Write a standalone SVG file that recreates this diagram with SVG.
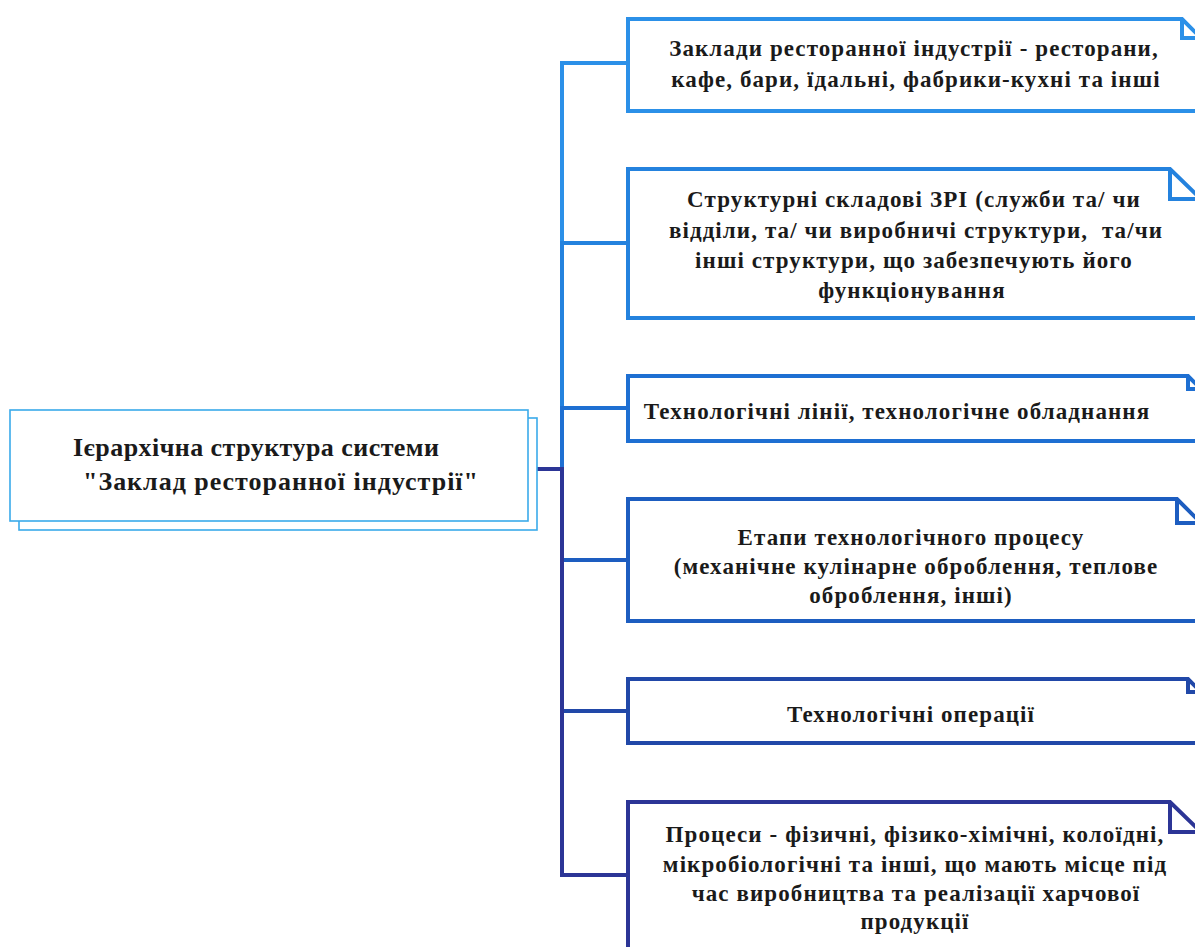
<svg xmlns="http://www.w3.org/2000/svg" width="1195" height="947" viewBox="0 0 1195 947">
  <style>
    .bg { fill: #ffffff; }
    .card { fill: #ffffff; stroke-width: 4; stroke-linejoin: miter; }
    .fold { fill: none; stroke-width: 4; stroke-linejoin: miter; }
    .wire { fill: none; stroke-width: 4; stroke-linejoin: miter; }
    .root { fill: #ffffff; stroke: #3aaaea; stroke-width: 1.6; }
    .t { font-family: "Liberation Serif", "DejaVu Serif", serif; font-weight: bold; font-size: 23px; letter-spacing: 1.1px; fill: #1a1a1a; text-anchor: middle; }
    .tl { font-family: "Liberation Serif", "DejaVu Serif", serif; font-weight: bold; font-size: 26px; fill: #1a1a1a; }
    .c1 { stroke: #2b90e8; }
    .c2 { stroke: #2482de; }
    .c3 { stroke: #1e6fd2; }
    .c4 { stroke: #1d5dc0; }
    .c5 { stroke: #2148a8; }
    .c6 { stroke: #2c3596; }
  </style>

  <rect class="bg" x="0" y="0" width="1195" height="947"/>

  <!-- elbow connectors from the root to each level, lowest drawn last -->
  <g id="connectors">
    <path class="wire c1" d="M537,469 H562 V63 H628"/>
    <path class="wire c2" d="M537,469 H562 V243 H628"/>
    <path class="wire c3" d="M537,469 H562 V408 H628"/>
    <path class="wire c4" d="M537,469 H562 V560 H628"/>
    <path class="wire c5" d="M537,469 H562 V711 H628"/>
    <path class="wire c6" d="M537,469 H562 V875 H628"/>
  </g>

  <!-- root node: card with a stacked card behind it -->
  <g id="root">
    <rect class="root" x="19" y="418" width="518" height="112"/>
    <rect class="root" x="10" y="410" width="518" height="111"/>
    <text class="tl" x="73" y="456" textLength="366" lengthAdjust="spacing">Ієрархічна структура системи</text>
    <text class="tl" x="83" y="490" textLength="395" lengthAdjust="spacing">"Заклад ресторанної індустрії"</text>
  </g>

  <!-- level cards with folded top-right corner -->
  <g id="level1">
    <path class="card c1" d="M628,19 H1182 L1201,38 V111 H628 Z"/>
    <path class="fold c1" d="M1182,19 V38 H1201"/>
    <text class="t" x="914" y="56">Заклади ресторанної індустрії - ресторани,</text>
    <text class="t" x="916" y="87">кафе, бари, їдальні, фабрики-кухні та інші</text>
  </g>

  <g id="level2">
    <path class="card c2" d="M628,169 H1170 L1201,199 V318 H628 Z"/>
    <path class="fold c2" d="M1170,169 V199 H1201"/>
    <text class="t" x="914" y="207">Структурні складові ЗРІ (служби та/ чи</text>
    <text class="t" x="916" y="238" xml:space="preserve">відділи, та/ чи виробничі структури,  та/чи</text>
    <text class="t" x="914" y="268">інші структури, що забезпечують його</text>
    <text class="t" x="912" y="298">функціонування</text>
  </g>

  <g id="level3">
    <path class="card c3" d="M628,376 H1188 L1201,389 V441 H628 Z"/>
    <path class="fold c3" d="M1188,376 V389 H1201"/>
    <text class="t" x="897" y="419">Технологічні лінії, технологічне обладнання</text>
  </g>

  <g id="level4">
    <path class="card c4" d="M628,499 H1177 L1201,523 V621 H628 Z"/>
    <path class="fold c4" d="M1177,499 V523 H1201"/>
    <text class="t" x="911" y="545">Етапи технологічного процесу</text>
    <text class="t" x="916" y="574">(механічне кулінарне оброблення, теплове</text>
    <text class="t" x="911" y="603">оброблення, інші)</text>
  </g>

  <g id="level5">
    <path class="card c5" d="M628,679 H1188 L1201,692 V743 H628 Z"/>
    <path class="fold c5" d="M1188,679 V692 H1201"/>
    <text class="t" x="911" y="722">Технологічні операції</text>
  </g>

  <g id="level6">
    <path class="card c6" d="M628,802 H1170 L1201,832 V952 H628 Z"/>
    <path class="fold c6" d="M1170,802 V832 H1201"/>
    <text class="t" x="915" y="842">Процеси - фізичні, фізико-хімічні, колоїдні,</text>
    <text class="t" x="915" y="872">мікробіологічні та інші, що мають місце під</text>
    <text class="t" x="916" y="901">час виробництва та реалізації харчової</text>
    <text class="t" x="915" y="929">продукції</text>
  </g>
</svg>
